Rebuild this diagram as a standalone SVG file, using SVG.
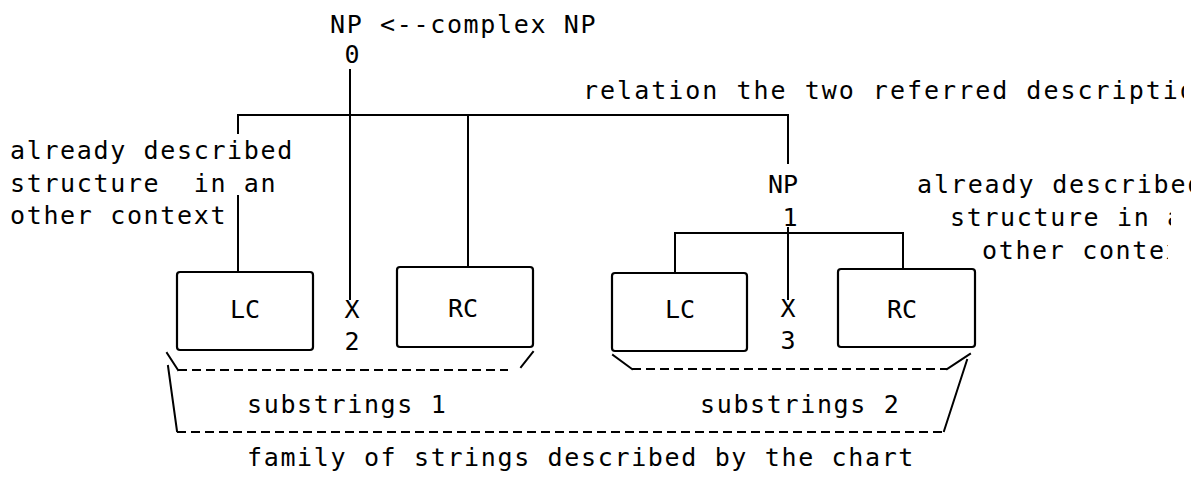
<svg xmlns="http://www.w3.org/2000/svg" width="1203" height="480" viewBox="0 0 1203 480">
  <style>
    .t { font-family: "DejaVu Sans Mono", "Liberation Mono", monospace; font-size: 25px; letter-spacing: 1.65px; fill: #000; }
    .c { font-family: "DejaVu Sans Mono", "Liberation Mono", monospace; font-size: 25px; fill: #000; text-anchor: middle; }
    .ln { stroke: #000; stroke-width: 2; fill: none; stroke-linecap: square; }
    .dash { stroke: #000; stroke-width: 2.2; fill: none; stroke-dasharray: 9 5; }
    .box { fill: #fff; stroke: #000; stroke-width: 2.2; }
  </style>
  <defs>
    <!-- the right margin of the sheet cuts the last letters of these lines -->
    <clipPath id="cut-rel"><rect x="0" y="0" width="1184" height="480"/></clipPath>
    <clipPath id="cut-r1"><rect x="0" y="0" width="1191" height="480"/></clipPath>
    <clipPath id="cut-r2"><rect x="0" y="0" width="1171" height="480"/></clipPath>
    <clipPath id="cut-r3"><rect x="0" y="0" width="1168" height="480"/></clipPath>
  </defs>
  <rect width="1203" height="480" fill="#fff"/>

  <!-- tree connectors -->
  <g id="connectors">
    <path class="ln" d="M350,70 V299"/>
    <path class="ln" d="M238,115 H788"/>
    <path class="ln" d="M238,115 V133 M238,196 V272"/>
    <path class="ln" d="M468,115 V267"/>
    <path class="ln" d="M788,115 V163"/>
    <path class="ln" d="M788,228 V299"/>
    <path class="ln" d="M675,233 H903"/>
    <path class="ln" d="M675,233 V273"/>
    <path class="ln" d="M903,233 V269"/>
  </g>

  <!-- root node -->
  <g id="np0">
    <text class="t" x="330" y="33">NP &lt;--complex NP</text>
    <text class="c" x="352" y="63">0</text>
  </g>

  <g id="relation-note" clip-path="url(#cut-rel)">
    <text class="t" x="583" y="99" style="letter-spacing:2px">relation the two referred descriptio</text>
  </g>

  <g id="note-left">
    <text class="t" x="10" y="159">already described</text>
    <text class="t" x="10" y="192" xml:space="preserve">structure  in an</text>
    <text class="t" x="10" y="224">other context</text>
  </g>

  <g id="np1">
    <text class="c" x="783" y="193">NP</text>
    <text class="c" x="790" y="226">1</text>
  </g>

  <g id="note-right">
    <text class="t" x="917" y="193" clip-path="url(#cut-r1)" style="letter-spacing:1.85px">already described</text>
    <text class="t" x="950" y="226" clip-path="url(#cut-r2)">structure in a</text>
    <text class="t" x="982" y="259" clip-path="url(#cut-r3)">other contex</text>
  </g>

  <g id="lc1">
    <rect class="box" x="177" y="272" width="136" height="78" rx="3"/>
    <text class="c" x="245" y="318">LC</text>
  </g>
  <g id="x2">
    <text class="c" x="352" y="318">X</text>
    <text class="c" x="352" y="350">2</text>
  </g>
  <g id="rc1">
    <rect class="box" x="397" y="267" width="136" height="80" rx="3"/>
    <text class="c" x="463" y="317">RC</text>
  </g>

  <g id="lc2">
    <rect class="box" x="612" y="273" width="135" height="78" rx="3"/>
    <text class="c" x="680" y="318">LC</text>
  </g>
  <g id="x3">
    <text class="c" x="788" y="317">X</text>
    <text class="c" x="788" y="349">3</text>
  </g>
  <g id="rc2">
    <rect class="box" x="838" y="269" width="137" height="78" rx="3"/>
    <text class="c" x="902" y="318">RC</text>
  </g>

  <!-- brace-like groupings of substrings -->
  <g id="substrings1">
    <path class="ln" d="M167,353 L178,370 M521,367 L533,352"/>
    <path class="dash" d="M178,370 H508"/>
    <text class="t" x="247" y="413">substrings 1</text>
  </g>
  <g id="substrings2">
    <path class="ln" d="M613,355 L632,369 M947,369 L970,354"/>
    <path class="dash" d="M632,369 H947"/>
    <text class="t" x="700" y="413">substrings 2</text>
  </g>
  <g id="family">
    <path class="ln" d="M168,366 L177,431 M944,431 L967,360"/>
    <path class="dash" d="M177,432 H944"/>
    <text class="t" x="247" y="466">family of strings described by the chart</text>
  </g>
</svg>
